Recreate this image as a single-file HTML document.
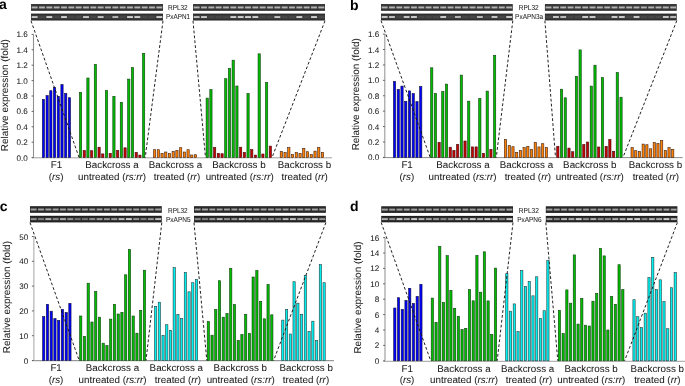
<!DOCTYPE html>
<html><head><meta charset="utf-8"><style>
html,body{margin:0;padding:0;background:#fff;overflow:hidden;}
svg{display:block;will-change:transform;}
text{font-family:"Liberation Sans", sans-serif;text-rendering:geometricPrecision;}
</style></head><body>
<svg width="685" height="386" viewBox="0 0 685 386">
<defs>
<linearGradient id="g1" x1="0" y1="0" x2="0" y2="1"><stop offset="0" stop-color="#1e1e1e"/><stop offset="0.25" stop-color="#3c3c3c"/><stop offset="0.75" stop-color="#3c3c3c"/><stop offset="1" stop-color="#1e1e1e"/></linearGradient>
<linearGradient id="g2" x1="0" y1="0" x2="0" y2="1"><stop offset="0" stop-color="#151515"/><stop offset="0.25" stop-color="#2e2e2e"/><stop offset="0.75" stop-color="#2e2e2e"/><stop offset="1" stop-color="#151515"/></linearGradient>
<filter id="bl" x="-5%" y="-50%" width="110%" height="200%"><feGaussianBlur stdDeviation="0.35"/></filter>
</defs>
<rect width="685" height="386" fill="#fff"/>
<text x="-1" y="8.6" font-size="14" text-anchor="start" font-weight="bold" fill="#000" >a</text>
<rect x="31" y="4.1" width="132.00" height="6.70" fill="url(#g1)"/>
<g filter="url(#bl)">
<rect x="31.73" y="6.50" width="5.87" height="1.9" fill="#e0e0e0" opacity="0.72"/>
<rect x="39.07" y="6.50" width="5.87" height="1.9" fill="#e0e0e0" opacity="0.72"/>
<rect x="46.40" y="6.50" width="5.87" height="1.9" fill="#e0e0e0" opacity="0.72"/>
<rect x="53.73" y="6.50" width="5.87" height="1.9" fill="#e0e0e0" opacity="0.72"/>
<rect x="61.07" y="6.50" width="5.87" height="1.9" fill="#e0e0e0" opacity="0.72"/>
<rect x="68.40" y="6.50" width="5.87" height="1.9" fill="#e0e0e0" opacity="0.72"/>
<rect x="75.73" y="6.50" width="5.87" height="1.9" fill="#e0e0e0" opacity="0.72"/>
<rect x="83.07" y="6.50" width="5.87" height="1.9" fill="#e0e0e0" opacity="0.72"/>
<rect x="90.40" y="6.50" width="5.87" height="1.9" fill="#e0e0e0" opacity="0.72"/>
<rect x="97.73" y="6.50" width="5.87" height="1.9" fill="#e0e0e0" opacity="0.72"/>
<rect x="105.07" y="6.50" width="5.87" height="1.9" fill="#e0e0e0" opacity="0.72"/>
<rect x="112.40" y="6.50" width="5.87" height="1.9" fill="#e0e0e0" opacity="0.72"/>
<rect x="119.73" y="6.50" width="5.87" height="1.9" fill="#e0e0e0" opacity="0.72"/>
<rect x="127.07" y="6.50" width="5.87" height="1.9" fill="#e0e0e0" opacity="0.72"/>
<rect x="134.40" y="6.50" width="5.87" height="1.9" fill="#e0e0e0" opacity="0.72"/>
<rect x="141.73" y="6.50" width="5.87" height="1.9" fill="#e0e0e0" opacity="0.72"/>
<rect x="149.07" y="6.50" width="5.87" height="1.9" fill="#e0e0e0" opacity="0.72"/>
<rect x="156.40" y="6.50" width="5.87" height="1.9" fill="#e0e0e0" opacity="0.72"/>
</g>
<rect x="31" y="13.6" width="132.00" height="6.90" fill="url(#g1)"/>
<g filter="url(#bl)">
<rect x="31.73" y="16.10" width="5.87" height="1.9" fill="#e0e0e0" opacity="0.85"/>
<rect x="39.07" y="16.10" width="5.87" height="1.9" fill="#e0e0e0" opacity="0.07"/>
<rect x="46.40" y="16.10" width="5.87" height="1.9" fill="#e0e0e0" opacity="0.90"/>
<rect x="53.73" y="16.10" width="5.87" height="1.9" fill="#e0e0e0" opacity="0.07"/>
<rect x="61.07" y="16.10" width="5.87" height="1.9" fill="#e0e0e0" opacity="0.90"/>
<rect x="68.40" y="16.10" width="5.87" height="1.9" fill="#e0e0e0" opacity="0.07"/>
<rect x="75.73" y="16.10" width="5.87" height="1.9" fill="#e0e0e0" opacity="0.07"/>
<rect x="83.07" y="16.10" width="5.87" height="1.9" fill="#e0e0e0" opacity="0.86"/>
<rect x="90.40" y="16.10" width="5.87" height="1.9" fill="#e0e0e0" opacity="0.07"/>
<rect x="97.73" y="16.10" width="5.87" height="1.9" fill="#e0e0e0" opacity="0.81"/>
<rect x="105.07" y="16.10" width="5.87" height="1.9" fill="#e0e0e0" opacity="0.07"/>
<rect x="112.40" y="16.10" width="5.87" height="1.9" fill="#e0e0e0" opacity="0.76"/>
<rect x="119.73" y="16.10" width="5.87" height="1.9" fill="#e0e0e0" opacity="0.07"/>
<rect x="127.07" y="16.10" width="5.87" height="1.9" fill="#e0e0e0" opacity="0.90"/>
<rect x="134.40" y="16.10" width="5.87" height="1.9" fill="#e0e0e0" opacity="0.90"/>
<rect x="141.73" y="16.10" width="5.87" height="1.9" fill="#e0e0e0" opacity="0.07"/>
<rect x="149.07" y="16.10" width="5.87" height="1.9" fill="#e0e0e0" opacity="0.07"/>
<rect x="156.40" y="16.10" width="5.87" height="1.9" fill="#e0e0e0" opacity="0.90"/>
</g>
<rect x="193" y="4.1" width="132.00" height="6.70" fill="url(#g1)"/>
<g filter="url(#bl)">
<rect x="193.73" y="6.50" width="5.87" height="1.9" fill="#e0e0e0" opacity="0.72"/>
<rect x="201.07" y="6.50" width="5.87" height="1.9" fill="#e0e0e0" opacity="0.72"/>
<rect x="208.40" y="6.50" width="5.87" height="1.9" fill="#e0e0e0" opacity="0.72"/>
<rect x="215.73" y="6.50" width="5.87" height="1.9" fill="#e0e0e0" opacity="0.72"/>
<rect x="223.07" y="6.50" width="5.87" height="1.9" fill="#e0e0e0" opacity="0.72"/>
<rect x="230.40" y="6.50" width="5.87" height="1.9" fill="#e0e0e0" opacity="0.72"/>
<rect x="237.73" y="6.50" width="5.87" height="1.9" fill="#e0e0e0" opacity="0.72"/>
<rect x="245.07" y="6.50" width="5.87" height="1.9" fill="#e0e0e0" opacity="0.72"/>
<rect x="252.40" y="6.50" width="5.87" height="1.9" fill="#e0e0e0" opacity="0.72"/>
<rect x="259.73" y="6.50" width="5.87" height="1.9" fill="#e0e0e0" opacity="0.72"/>
<rect x="267.07" y="6.50" width="5.87" height="1.9" fill="#e0e0e0" opacity="0.72"/>
<rect x="274.40" y="6.50" width="5.87" height="1.9" fill="#e0e0e0" opacity="0.72"/>
<rect x="281.73" y="6.50" width="5.87" height="1.9" fill="#e0e0e0" opacity="0.72"/>
<rect x="289.07" y="6.50" width="5.87" height="1.9" fill="#e0e0e0" opacity="0.72"/>
<rect x="296.40" y="6.50" width="5.87" height="1.9" fill="#e0e0e0" opacity="0.72"/>
<rect x="303.73" y="6.50" width="5.87" height="1.9" fill="#e0e0e0" opacity="0.72"/>
<rect x="311.07" y="6.50" width="5.87" height="1.9" fill="#e0e0e0" opacity="0.72"/>
<rect x="318.40" y="6.50" width="5.87" height="1.9" fill="#e0e0e0" opacity="0.72"/>
</g>
<rect x="193" y="13.6" width="132.00" height="6.90" fill="url(#g1)"/>
<g filter="url(#bl)">
<rect x="193.73" y="16.10" width="5.87" height="1.9" fill="#e0e0e0" opacity="0.80"/>
<rect x="201.07" y="16.10" width="5.87" height="1.9" fill="#e0e0e0" opacity="0.87"/>
<rect x="208.40" y="16.10" width="5.87" height="1.9" fill="#e0e0e0" opacity="0.07"/>
<rect x="215.73" y="16.10" width="5.87" height="1.9" fill="#e0e0e0" opacity="0.07"/>
<rect x="223.07" y="16.10" width="5.87" height="1.9" fill="#e0e0e0" opacity="0.07"/>
<rect x="230.40" y="16.10" width="5.87" height="1.9" fill="#e0e0e0" opacity="0.90"/>
<rect x="237.73" y="16.10" width="5.87" height="1.9" fill="#e0e0e0" opacity="0.90"/>
<rect x="245.07" y="16.10" width="5.87" height="1.9" fill="#e0e0e0" opacity="0.90"/>
<rect x="252.40" y="16.10" width="5.87" height="1.9" fill="#e0e0e0" opacity="0.90"/>
<rect x="259.73" y="16.10" width="5.87" height="1.9" fill="#e0e0e0" opacity="0.07"/>
<rect x="267.07" y="16.10" width="5.87" height="1.9" fill="#e0e0e0" opacity="0.07"/>
<rect x="274.40" y="16.10" width="5.87" height="1.9" fill="#e0e0e0" opacity="0.84"/>
<rect x="281.73" y="16.10" width="5.87" height="1.9" fill="#e0e0e0" opacity="0.07"/>
<rect x="289.07" y="16.10" width="5.87" height="1.9" fill="#e0e0e0" opacity="0.07"/>
<rect x="296.40" y="16.10" width="5.87" height="1.9" fill="#e0e0e0" opacity="0.90"/>
<rect x="303.73" y="16.10" width="5.87" height="1.9" fill="#e0e0e0" opacity="0.07"/>
<rect x="311.07" y="16.10" width="5.87" height="1.9" fill="#e0e0e0" opacity="0.90"/>
<rect x="318.40" y="16.10" width="5.87" height="1.9" fill="#e0e0e0" opacity="0.07"/>
</g>
<text x="177.85" y="9.9" font-size="7.2" text-anchor="middle" font-weight="normal" fill="#222" stroke="#222" stroke-width="0.05" textLength="19.70" lengthAdjust="spacingAndGlyphs">RPL32</text>
<text x="178.05" y="19.1" font-size="7.2" text-anchor="middle" font-weight="normal" fill="#222" stroke="#222" stroke-width="0.05" textLength="23.90" lengthAdjust="spacingAndGlyphs">PxAPN1</text>
<line x1="31.9" y1="157.79999999999998" x2="332" y2="157.79999999999998" stroke="#a0a0a0" stroke-width="1"/>
<line x1="33.5" y1="34.40" x2="33.5" y2="157.6" stroke="#909090" stroke-width="1.1"/>
<line x1="31.6" y1="157.60" x2="33.5" y2="157.60" stroke="#555" stroke-width="0.9"/>
<text x="27.8" y="160.65" font-size="8.1" text-anchor="end" font-weight="normal" fill="#222" stroke="#222" stroke-width="0.05" >0.0</text>
<line x1="31.6" y1="142.20" x2="33.5" y2="142.20" stroke="#555" stroke-width="0.9"/>
<text x="27.8" y="145.25" font-size="8.1" text-anchor="end" font-weight="normal" fill="#222" stroke="#222" stroke-width="0.05" >0.2</text>
<line x1="31.6" y1="126.80" x2="33.5" y2="126.80" stroke="#555" stroke-width="0.9"/>
<text x="27.8" y="129.85" font-size="8.1" text-anchor="end" font-weight="normal" fill="#222" stroke="#222" stroke-width="0.05" >0.4</text>
<line x1="31.6" y1="111.40" x2="33.5" y2="111.40" stroke="#555" stroke-width="0.9"/>
<text x="27.8" y="114.45" font-size="8.1" text-anchor="end" font-weight="normal" fill="#222" stroke="#222" stroke-width="0.05" >0.6</text>
<line x1="31.6" y1="96.00" x2="33.5" y2="96.00" stroke="#555" stroke-width="0.9"/>
<text x="27.8" y="99.05" font-size="8.1" text-anchor="end" font-weight="normal" fill="#222" stroke="#222" stroke-width="0.05" >0.8</text>
<line x1="31.6" y1="80.60" x2="33.5" y2="80.60" stroke="#555" stroke-width="0.9"/>
<text x="27.8" y="83.65" font-size="8.1" text-anchor="end" font-weight="normal" fill="#222" stroke="#222" stroke-width="0.05" >1.0</text>
<line x1="31.6" y1="65.20" x2="33.5" y2="65.20" stroke="#555" stroke-width="0.9"/>
<text x="27.8" y="68.25" font-size="8.1" text-anchor="end" font-weight="normal" fill="#222" stroke="#222" stroke-width="0.05" >1.2</text>
<line x1="31.6" y1="49.80" x2="33.5" y2="49.80" stroke="#555" stroke-width="0.9"/>
<text x="27.8" y="52.85" font-size="8.1" text-anchor="end" font-weight="normal" fill="#222" stroke="#222" stroke-width="0.05" >1.4</text>
<line x1="31.6" y1="34.40" x2="33.5" y2="34.40" stroke="#555" stroke-width="0.9"/>
<text x="27.8" y="37.45" font-size="8.1" text-anchor="end" font-weight="normal" fill="#222" stroke="#222" stroke-width="0.05" >1.6</text>
<text transform="translate(7.9,95.2) rotate(-90)" font-size="9.95" text-anchor="middle" fill="#1a1a1a" stroke="#1a1a1a" stroke-width="0.05">Relative expression (fold)</text>
<rect x="42.30" y="99.30" width="2.25" height="58.30" fill="#0000ff" stroke="#101040" stroke-width="0.6"/>
<rect x="46.01" y="95.60" width="2.25" height="62.00" fill="#0000ff" stroke="#101040" stroke-width="0.6"/>
<rect x="49.73" y="90.70" width="2.25" height="66.90" fill="#0000ff" stroke="#101040" stroke-width="0.6"/>
<rect x="53.44" y="87.40" width="2.25" height="70.20" fill="#0000ff" stroke="#101040" stroke-width="0.6"/>
<rect x="57.16" y="96.30" width="2.25" height="61.30" fill="#0000ff" stroke="#101040" stroke-width="0.6"/>
<rect x="60.87" y="84.60" width="2.25" height="73.00" fill="#0000ff" stroke="#101040" stroke-width="0.6"/>
<rect x="64.59" y="93.50" width="2.25" height="64.10" fill="#0000ff" stroke="#101040" stroke-width="0.6"/>
<rect x="68.30" y="97.70" width="2.25" height="59.90" fill="#0000ff" stroke="#101040" stroke-width="0.6"/>
<rect x="79.40" y="92.30" width="2.25" height="65.30" fill="#00bb00" stroke="#104010" stroke-width="0.6"/>
<rect x="83.11" y="150.40" width="2.25" height="7.20" fill="#c40000" stroke="#401010" stroke-width="0.6"/>
<rect x="86.82" y="78.00" width="2.25" height="79.60" fill="#00bb00" stroke="#104010" stroke-width="0.6"/>
<rect x="90.54" y="150.70" width="2.25" height="6.90" fill="#c40000" stroke="#401010" stroke-width="0.6"/>
<rect x="94.25" y="64.40" width="2.25" height="93.20" fill="#00bb00" stroke="#104010" stroke-width="0.6"/>
<rect x="97.96" y="147.20" width="2.25" height="10.40" fill="#c40000" stroke="#401010" stroke-width="0.6"/>
<rect x="101.67" y="153.90" width="2.25" height="3.70" fill="#c40000" stroke="#401010" stroke-width="0.6"/>
<rect x="105.38" y="90.60" width="2.25" height="67.00" fill="#00bb00" stroke="#104010" stroke-width="0.6"/>
<rect x="109.09" y="153.30" width="2.25" height="4.30" fill="#c40000" stroke="#401010" stroke-width="0.6"/>
<rect x="112.81" y="96.30" width="2.25" height="61.30" fill="#00bb00" stroke="#104010" stroke-width="0.6"/>
<rect x="116.52" y="150.40" width="2.25" height="7.20" fill="#c40000" stroke="#401010" stroke-width="0.6"/>
<rect x="120.23" y="102.30" width="2.25" height="55.30" fill="#00bb00" stroke="#104010" stroke-width="0.6"/>
<rect x="123.94" y="147.80" width="2.25" height="9.80" fill="#c40000" stroke="#401010" stroke-width="0.6"/>
<rect x="127.65" y="79.10" width="2.25" height="78.50" fill="#00bb00" stroke="#104010" stroke-width="0.6"/>
<rect x="131.36" y="67.50" width="2.25" height="90.10" fill="#00bb00" stroke="#104010" stroke-width="0.6"/>
<rect x="135.08" y="152.30" width="2.25" height="5.30" fill="#c40000" stroke="#401010" stroke-width="0.6"/>
<rect x="138.79" y="155.10" width="2.25" height="2.50" fill="#c40000" stroke="#401010" stroke-width="0.6"/>
<rect x="142.50" y="53.30" width="2.25" height="104.30" fill="#00bb00" stroke="#104010" stroke-width="0.6"/>
<rect x="153.50" y="149.70" width="2.25" height="7.90" fill="#ff8000" stroke="#402010" stroke-width="0.6"/>
<rect x="157.22" y="149.70" width="2.25" height="7.90" fill="#ff8000" stroke="#402010" stroke-width="0.6"/>
<rect x="160.94" y="153.40" width="2.25" height="4.20" fill="#ff8000" stroke="#402010" stroke-width="0.6"/>
<rect x="164.65" y="152.00" width="2.25" height="5.60" fill="#ff8000" stroke="#402010" stroke-width="0.6"/>
<rect x="168.37" y="153.60" width="2.25" height="4.00" fill="#ff8000" stroke="#402010" stroke-width="0.6"/>
<rect x="172.09" y="151.30" width="2.25" height="6.30" fill="#ff8000" stroke="#402010" stroke-width="0.6"/>
<rect x="175.81" y="150.30" width="2.25" height="7.30" fill="#ff8000" stroke="#402010" stroke-width="0.6"/>
<rect x="179.53" y="147.70" width="2.25" height="9.90" fill="#ff8000" stroke="#402010" stroke-width="0.6"/>
<rect x="183.25" y="152.00" width="2.25" height="5.60" fill="#ff8000" stroke="#402010" stroke-width="0.6"/>
<rect x="186.96" y="149.70" width="2.25" height="7.90" fill="#ff8000" stroke="#402010" stroke-width="0.6"/>
<rect x="190.68" y="155.00" width="2.25" height="2.60" fill="#ff8000" stroke="#402010" stroke-width="0.6"/>
<rect x="194.40" y="154.70" width="2.25" height="2.90" fill="#ff8000" stroke="#402010" stroke-width="0.6"/>
<rect x="206.10" y="98.10" width="2.25" height="59.50" fill="#00bb00" stroke="#104010" stroke-width="0.6"/>
<rect x="209.81" y="89.60" width="2.25" height="68.00" fill="#00bb00" stroke="#104010" stroke-width="0.6"/>
<rect x="213.52" y="147.50" width="2.25" height="10.10" fill="#c40000" stroke="#401010" stroke-width="0.6"/>
<rect x="217.24" y="153.30" width="2.25" height="4.30" fill="#c40000" stroke="#401010" stroke-width="0.6"/>
<rect x="220.95" y="153.70" width="2.25" height="3.90" fill="#c40000" stroke="#401010" stroke-width="0.6"/>
<rect x="224.66" y="78.70" width="2.25" height="78.90" fill="#00bb00" stroke="#104010" stroke-width="0.6"/>
<rect x="228.37" y="68.30" width="2.25" height="89.30" fill="#00bb00" stroke="#104010" stroke-width="0.6"/>
<rect x="232.08" y="60.20" width="2.25" height="97.40" fill="#00bb00" stroke="#104010" stroke-width="0.6"/>
<rect x="235.79" y="86.00" width="2.25" height="71.60" fill="#00bb00" stroke="#104010" stroke-width="0.6"/>
<rect x="239.51" y="147.20" width="2.25" height="10.40" fill="#c40000" stroke="#401010" stroke-width="0.6"/>
<rect x="243.22" y="152.30" width="2.25" height="5.30" fill="#c40000" stroke="#401010" stroke-width="0.6"/>
<rect x="246.93" y="93.50" width="2.25" height="64.10" fill="#00bb00" stroke="#104010" stroke-width="0.6"/>
<rect x="250.64" y="149.60" width="2.25" height="8.00" fill="#c40000" stroke="#401010" stroke-width="0.6"/>
<rect x="254.35" y="155.10" width="2.25" height="2.50" fill="#c40000" stroke="#401010" stroke-width="0.6"/>
<rect x="258.06" y="53.80" width="2.25" height="103.80" fill="#00bb00" stroke="#104010" stroke-width="0.6"/>
<rect x="261.78" y="154.00" width="2.25" height="3.60" fill="#c40000" stroke="#401010" stroke-width="0.6"/>
<rect x="265.49" y="82.60" width="2.25" height="75.00" fill="#00bb00" stroke="#104010" stroke-width="0.6"/>
<rect x="269.20" y="146.10" width="2.25" height="11.50" fill="#c40000" stroke="#401010" stroke-width="0.6"/>
<rect x="280.20" y="151.60" width="2.25" height="6.00" fill="#ff8000" stroke="#402010" stroke-width="0.6"/>
<rect x="283.95" y="152.50" width="2.25" height="5.10" fill="#ff8000" stroke="#402010" stroke-width="0.6"/>
<rect x="287.69" y="147.60" width="2.25" height="10.00" fill="#ff8000" stroke="#402010" stroke-width="0.6"/>
<rect x="291.44" y="154.50" width="2.25" height="3.10" fill="#ff8000" stroke="#402010" stroke-width="0.6"/>
<rect x="295.18" y="152.50" width="2.25" height="5.10" fill="#ff8000" stroke="#402010" stroke-width="0.6"/>
<rect x="298.93" y="153.30" width="2.25" height="4.30" fill="#ff8000" stroke="#402010" stroke-width="0.6"/>
<rect x="302.67" y="148.40" width="2.25" height="9.20" fill="#ff8000" stroke="#402010" stroke-width="0.6"/>
<rect x="306.42" y="151.70" width="2.25" height="5.90" fill="#ff8000" stroke="#402010" stroke-width="0.6"/>
<rect x="310.16" y="154.50" width="2.25" height="3.10" fill="#ff8000" stroke="#402010" stroke-width="0.6"/>
<rect x="313.91" y="151.10" width="2.25" height="6.50" fill="#ff8000" stroke="#402010" stroke-width="0.6"/>
<rect x="317.65" y="147.60" width="2.25" height="10.00" fill="#ff8000" stroke="#402010" stroke-width="0.6"/>
<rect x="321.40" y="152.50" width="2.25" height="5.10" fill="#ff8000" stroke="#402010" stroke-width="0.6"/>
<line x1="31" y1="20.8" x2="79.1" y2="157.6" stroke="#151515" stroke-width="0.95" stroke-dasharray="2.8 2.1"/>
<line x1="163" y1="20.8" x2="145.2" y2="157.6" stroke="#151515" stroke-width="0.95" stroke-dasharray="2.8 2.1"/>
<line x1="193" y1="20.8" x2="205.5" y2="157.6" stroke="#151515" stroke-width="0.95" stroke-dasharray="2.8 2.1"/>
<line x1="325" y1="20.8" x2="272" y2="157.6" stroke="#151515" stroke-width="0.95" stroke-dasharray="2.8 2.1"/>
<text x="56.4" y="168.40" font-size="9.8" text-anchor="middle" font-weight="normal" fill="#1a1a1a" stroke="#1a1a1a" stroke-width="0.05" >F1</text>
<text x="56.1" y="179.90" font-size="9.8" text-anchor="middle" font-weight="normal" fill="#1a1a1a" stroke="#1a1a1a" stroke-width="0.05" >(<tspan font-style="italic">rs</tspan>)</text>
<text x="112.0" y="168.40" font-size="9.8" text-anchor="middle" font-weight="normal" fill="#1a1a1a" stroke="#1a1a1a" stroke-width="0.05" >Backcross a</text>
<text x="112.1" y="179.90" font-size="9.8" text-anchor="middle" font-weight="normal" fill="#1a1a1a" stroke="#1a1a1a" stroke-width="0.05" >untreated (<tspan font-style="italic">rs:rr</tspan>)</text>
<text x="175.5" y="168.40" font-size="9.8" text-anchor="middle" font-weight="normal" fill="#1a1a1a" stroke="#1a1a1a" stroke-width="0.05" >Backcross a</text>
<text x="177.0" y="179.90" font-size="9.8" text-anchor="middle" font-weight="normal" fill="#1a1a1a" stroke="#1a1a1a" stroke-width="0.05" >treated (<tspan font-style="italic">rr</tspan>)</text>
<text x="239.0" y="168.40" font-size="9.8" text-anchor="middle" font-weight="normal" fill="#1a1a1a" stroke="#1a1a1a" stroke-width="0.05" >Backcross b</text>
<text x="239.7" y="179.90" font-size="9.8" text-anchor="middle" font-weight="normal" fill="#1a1a1a" stroke="#1a1a1a" stroke-width="0.05" >untreated (<tspan font-style="italic">rs:rr</tspan>)</text>
<text x="304.5" y="168.40" font-size="9.8" text-anchor="middle" font-weight="normal" fill="#1a1a1a" stroke="#1a1a1a" stroke-width="0.05" >Backcross b</text>
<text x="304.7" y="179.90" font-size="9.8" text-anchor="middle" font-weight="normal" fill="#1a1a1a" stroke="#1a1a1a" stroke-width="0.05" >treated (<tspan font-style="italic">rr</tspan>)</text>
<text x="350" y="9.9" font-size="14" text-anchor="start" font-weight="bold" fill="#000" >b</text>
<rect x="381" y="4.1" width="131.80" height="6.70" fill="url(#g1)"/>
<g filter="url(#bl)">
<rect x="381.73" y="6.50" width="5.86" height="1.9" fill="#e0e0e0" opacity="0.72"/>
<rect x="389.05" y="6.50" width="5.86" height="1.9" fill="#e0e0e0" opacity="0.72"/>
<rect x="396.38" y="6.50" width="5.86" height="1.9" fill="#e0e0e0" opacity="0.72"/>
<rect x="403.70" y="6.50" width="5.86" height="1.9" fill="#e0e0e0" opacity="0.72"/>
<rect x="411.02" y="6.50" width="5.86" height="1.9" fill="#e0e0e0" opacity="0.72"/>
<rect x="418.34" y="6.50" width="5.86" height="1.9" fill="#e0e0e0" opacity="0.72"/>
<rect x="425.67" y="6.50" width="5.86" height="1.9" fill="#e0e0e0" opacity="0.72"/>
<rect x="432.99" y="6.50" width="5.86" height="1.9" fill="#e0e0e0" opacity="0.72"/>
<rect x="440.31" y="6.50" width="5.86" height="1.9" fill="#e0e0e0" opacity="0.72"/>
<rect x="447.63" y="6.50" width="5.86" height="1.9" fill="#e0e0e0" opacity="0.72"/>
<rect x="454.95" y="6.50" width="5.86" height="1.9" fill="#e0e0e0" opacity="0.72"/>
<rect x="462.28" y="6.50" width="5.86" height="1.9" fill="#e0e0e0" opacity="0.72"/>
<rect x="469.60" y="6.50" width="5.86" height="1.9" fill="#e0e0e0" opacity="0.72"/>
<rect x="476.92" y="6.50" width="5.86" height="1.9" fill="#e0e0e0" opacity="0.72"/>
<rect x="484.24" y="6.50" width="5.86" height="1.9" fill="#e0e0e0" opacity="0.72"/>
<rect x="491.57" y="6.50" width="5.86" height="1.9" fill="#e0e0e0" opacity="0.72"/>
<rect x="498.89" y="6.50" width="5.86" height="1.9" fill="#e0e0e0" opacity="0.72"/>
<rect x="506.21" y="6.50" width="5.86" height="1.9" fill="#e0e0e0" opacity="0.72"/>
</g>
<rect x="381" y="13.6" width="131.80" height="6.80" fill="url(#g1)"/>
<g filter="url(#bl)">
<rect x="381.73" y="16.05" width="5.86" height="1.9" fill="#e0e0e0" opacity="0.90"/>
<rect x="389.05" y="16.05" width="5.86" height="1.9" fill="#e0e0e0" opacity="0.83"/>
<rect x="396.38" y="16.05" width="5.86" height="1.9" fill="#e0e0e0" opacity="0.07"/>
<rect x="403.70" y="16.05" width="5.86" height="1.9" fill="#e0e0e0" opacity="0.85"/>
<rect x="411.02" y="16.05" width="5.86" height="1.9" fill="#e0e0e0" opacity="0.90"/>
<rect x="418.34" y="16.05" width="5.86" height="1.9" fill="#e0e0e0" opacity="0.07"/>
<rect x="425.67" y="16.05" width="5.86" height="1.9" fill="#e0e0e0" opacity="0.07"/>
<rect x="432.99" y="16.05" width="5.86" height="1.9" fill="#e0e0e0" opacity="0.07"/>
<rect x="440.31" y="16.05" width="5.86" height="1.9" fill="#e0e0e0" opacity="0.90"/>
<rect x="447.63" y="16.05" width="5.86" height="1.9" fill="#e0e0e0" opacity="0.07"/>
<rect x="454.95" y="16.05" width="5.86" height="1.9" fill="#e0e0e0" opacity="0.77"/>
<rect x="462.28" y="16.05" width="5.86" height="1.9" fill="#e0e0e0" opacity="0.07"/>
<rect x="469.60" y="16.05" width="5.86" height="1.9" fill="#e0e0e0" opacity="0.07"/>
<rect x="476.92" y="16.05" width="5.86" height="1.9" fill="#e0e0e0" opacity="0.79"/>
<rect x="484.24" y="16.05" width="5.86" height="1.9" fill="#e0e0e0" opacity="0.07"/>
<rect x="491.57" y="16.05" width="5.86" height="1.9" fill="#e0e0e0" opacity="0.85"/>
<rect x="498.89" y="16.05" width="5.86" height="1.9" fill="#e0e0e0" opacity="0.07"/>
<rect x="506.21" y="16.05" width="5.86" height="1.9" fill="#e0e0e0" opacity="0.90"/>
</g>
<rect x="544.9" y="4.1" width="131.90" height="6.70" fill="url(#g1)"/>
<g filter="url(#bl)">
<rect x="545.63" y="6.50" width="5.86" height="1.9" fill="#e0e0e0" opacity="0.72"/>
<rect x="552.96" y="6.50" width="5.86" height="1.9" fill="#e0e0e0" opacity="0.72"/>
<rect x="560.29" y="6.50" width="5.86" height="1.9" fill="#e0e0e0" opacity="0.72"/>
<rect x="567.62" y="6.50" width="5.86" height="1.9" fill="#e0e0e0" opacity="0.72"/>
<rect x="574.94" y="6.50" width="5.86" height="1.9" fill="#e0e0e0" opacity="0.72"/>
<rect x="582.27" y="6.50" width="5.86" height="1.9" fill="#e0e0e0" opacity="0.72"/>
<rect x="589.60" y="6.50" width="5.86" height="1.9" fill="#e0e0e0" opacity="0.72"/>
<rect x="596.93" y="6.50" width="5.86" height="1.9" fill="#e0e0e0" opacity="0.72"/>
<rect x="604.25" y="6.50" width="5.86" height="1.9" fill="#e0e0e0" opacity="0.72"/>
<rect x="611.58" y="6.50" width="5.86" height="1.9" fill="#e0e0e0" opacity="0.72"/>
<rect x="618.91" y="6.50" width="5.86" height="1.9" fill="#e0e0e0" opacity="0.72"/>
<rect x="626.24" y="6.50" width="5.86" height="1.9" fill="#e0e0e0" opacity="0.72"/>
<rect x="633.57" y="6.50" width="5.86" height="1.9" fill="#e0e0e0" opacity="0.72"/>
<rect x="640.89" y="6.50" width="5.86" height="1.9" fill="#e0e0e0" opacity="0.72"/>
<rect x="648.22" y="6.50" width="5.86" height="1.9" fill="#e0e0e0" opacity="0.72"/>
<rect x="655.55" y="6.50" width="5.86" height="1.9" fill="#e0e0e0" opacity="0.72"/>
<rect x="662.88" y="6.50" width="5.86" height="1.9" fill="#e0e0e0" opacity="0.72"/>
<rect x="670.20" y="6.50" width="5.86" height="1.9" fill="#e0e0e0" opacity="0.72"/>
</g>
<rect x="544.9" y="13.6" width="131.90" height="6.80" fill="url(#g1)"/>
<g filter="url(#bl)">
<rect x="545.63" y="16.05" width="5.86" height="1.9" fill="#e0e0e0" opacity="0.07"/>
<rect x="552.96" y="16.05" width="5.86" height="1.9" fill="#e0e0e0" opacity="0.87"/>
<rect x="560.29" y="16.05" width="5.86" height="1.9" fill="#e0e0e0" opacity="0.80"/>
<rect x="567.62" y="16.05" width="5.86" height="1.9" fill="#e0e0e0" opacity="0.07"/>
<rect x="574.94" y="16.05" width="5.86" height="1.9" fill="#e0e0e0" opacity="0.07"/>
<rect x="582.27" y="16.05" width="5.86" height="1.9" fill="#e0e0e0" opacity="0.90"/>
<rect x="589.60" y="16.05" width="5.86" height="1.9" fill="#e0e0e0" opacity="0.90"/>
<rect x="596.93" y="16.05" width="5.86" height="1.9" fill="#e0e0e0" opacity="0.07"/>
<rect x="604.25" y="16.05" width="5.86" height="1.9" fill="#e0e0e0" opacity="0.07"/>
<rect x="611.58" y="16.05" width="5.86" height="1.9" fill="#e0e0e0" opacity="0.90"/>
<rect x="618.91" y="16.05" width="5.86" height="1.9" fill="#e0e0e0" opacity="0.90"/>
<rect x="626.24" y="16.05" width="5.86" height="1.9" fill="#e0e0e0" opacity="0.07"/>
<rect x="633.57" y="16.05" width="5.86" height="1.9" fill="#e0e0e0" opacity="0.90"/>
<rect x="640.89" y="16.05" width="5.86" height="1.9" fill="#e0e0e0" opacity="0.07"/>
<rect x="648.22" y="16.05" width="5.86" height="1.9" fill="#e0e0e0" opacity="0.07"/>
<rect x="655.55" y="16.05" width="5.86" height="1.9" fill="#e0e0e0" opacity="0.07"/>
<rect x="662.88" y="16.05" width="5.86" height="1.9" fill="#e0e0e0" opacity="0.90"/>
<rect x="670.20" y="16.05" width="5.86" height="1.9" fill="#e0e0e0" opacity="0.80"/>
</g>
<text x="528.7" y="10.2" font-size="7.2" text-anchor="middle" font-weight="normal" fill="#222" stroke="#222" stroke-width="0.05" textLength="19.80" lengthAdjust="spacingAndGlyphs">RPL32</text>
<text x="529.15" y="19.4" font-size="7.2" text-anchor="middle" font-weight="normal" fill="#222" stroke="#222" stroke-width="0.05" textLength="28.10" lengthAdjust="spacingAndGlyphs">PxAPN3a</text>
<line x1="383.2" y1="157.6" x2="682.7" y2="157.6" stroke="#8c8c8c" stroke-width="1"/>
<line x1="384.8" y1="34.12" x2="384.8" y2="157.4" stroke="#999999" stroke-width="1.1"/>
<line x1="382.90000000000003" y1="157.40" x2="384.8" y2="157.40" stroke="#555" stroke-width="0.9"/>
<text x="379.3" y="160.45" font-size="8.1" text-anchor="end" font-weight="normal" fill="#222" stroke="#222" stroke-width="0.05" >0.0</text>
<line x1="382.90000000000003" y1="141.99" x2="384.8" y2="141.99" stroke="#555" stroke-width="0.9"/>
<text x="379.3" y="145.04" font-size="8.1" text-anchor="end" font-weight="normal" fill="#222" stroke="#222" stroke-width="0.05" >0.2</text>
<line x1="382.90000000000003" y1="126.58" x2="384.8" y2="126.58" stroke="#555" stroke-width="0.9"/>
<text x="379.3" y="129.63" font-size="8.1" text-anchor="end" font-weight="normal" fill="#222" stroke="#222" stroke-width="0.05" >0.4</text>
<line x1="382.90000000000003" y1="111.17" x2="384.8" y2="111.17" stroke="#555" stroke-width="0.9"/>
<text x="379.3" y="114.22" font-size="8.1" text-anchor="end" font-weight="normal" fill="#222" stroke="#222" stroke-width="0.05" >0.6</text>
<line x1="382.90000000000003" y1="95.76" x2="384.8" y2="95.76" stroke="#555" stroke-width="0.9"/>
<text x="379.3" y="98.81" font-size="8.1" text-anchor="end" font-weight="normal" fill="#222" stroke="#222" stroke-width="0.05" >0.8</text>
<line x1="382.90000000000003" y1="80.35" x2="384.8" y2="80.35" stroke="#555" stroke-width="0.9"/>
<text x="379.3" y="83.40" font-size="8.1" text-anchor="end" font-weight="normal" fill="#222" stroke="#222" stroke-width="0.05" >1.0</text>
<line x1="382.90000000000003" y1="64.94" x2="384.8" y2="64.94" stroke="#555" stroke-width="0.9"/>
<text x="379.3" y="67.99" font-size="8.1" text-anchor="end" font-weight="normal" fill="#222" stroke="#222" stroke-width="0.05" >1.2</text>
<line x1="382.90000000000003" y1="49.53" x2="384.8" y2="49.53" stroke="#555" stroke-width="0.9"/>
<text x="379.3" y="52.58" font-size="8.1" text-anchor="end" font-weight="normal" fill="#222" stroke="#222" stroke-width="0.05" >1.4</text>
<line x1="382.90000000000003" y1="34.12" x2="384.8" y2="34.12" stroke="#555" stroke-width="0.9"/>
<text x="379.3" y="37.17" font-size="8.1" text-anchor="end" font-weight="normal" fill="#222" stroke="#222" stroke-width="0.05" >1.6</text>
<text transform="translate(358.8,94.3) rotate(-90)" font-size="9.95" text-anchor="middle" fill="#1a1a1a" stroke="#1a1a1a" stroke-width="0.05">Relative expression (fold)</text>
<rect x="393.40" y="81.40" width="2.25" height="76.00" fill="#0000ff" stroke="#101040" stroke-width="0.6"/>
<rect x="397.14" y="89.40" width="2.25" height="68.00" fill="#0000ff" stroke="#101040" stroke-width="0.6"/>
<rect x="400.89" y="86.10" width="2.25" height="71.30" fill="#0000ff" stroke="#101040" stroke-width="0.6"/>
<rect x="404.63" y="101.40" width="2.25" height="56.00" fill="#0000ff" stroke="#101040" stroke-width="0.6"/>
<rect x="408.37" y="90.90" width="2.25" height="66.50" fill="#0000ff" stroke="#101040" stroke-width="0.6"/>
<rect x="412.11" y="93.50" width="2.25" height="63.90" fill="#0000ff" stroke="#101040" stroke-width="0.6"/>
<rect x="415.86" y="101.60" width="2.25" height="55.80" fill="#0000ff" stroke="#101040" stroke-width="0.6"/>
<rect x="419.60" y="86.50" width="2.25" height="70.90" fill="#0000ff" stroke="#101040" stroke-width="0.6"/>
<rect x="430.60" y="67.80" width="2.25" height="89.60" fill="#00bb00" stroke="#104010" stroke-width="0.6"/>
<rect x="434.30" y="93.50" width="2.25" height="63.90" fill="#00bb00" stroke="#104010" stroke-width="0.6"/>
<rect x="438.00" y="142.30" width="2.25" height="15.10" fill="#c40000" stroke="#401010" stroke-width="0.6"/>
<rect x="441.70" y="91.60" width="2.25" height="65.80" fill="#00bb00" stroke="#104010" stroke-width="0.6"/>
<rect x="445.40" y="84.10" width="2.25" height="73.30" fill="#00bb00" stroke="#104010" stroke-width="0.6"/>
<rect x="449.10" y="147.20" width="2.25" height="10.20" fill="#c40000" stroke="#401010" stroke-width="0.6"/>
<rect x="452.80" y="150.40" width="2.25" height="7.00" fill="#c40000" stroke="#401010" stroke-width="0.6"/>
<rect x="456.50" y="144.50" width="2.25" height="12.90" fill="#c40000" stroke="#401010" stroke-width="0.6"/>
<rect x="460.20" y="75.10" width="2.25" height="82.30" fill="#00bb00" stroke="#104010" stroke-width="0.6"/>
<rect x="463.90" y="141.00" width="2.25" height="16.40" fill="#c40000" stroke="#401010" stroke-width="0.6"/>
<rect x="467.60" y="101.20" width="2.25" height="56.20" fill="#00bb00" stroke="#104010" stroke-width="0.6"/>
<rect x="471.30" y="146.90" width="2.25" height="10.50" fill="#c40000" stroke="#401010" stroke-width="0.6"/>
<rect x="475.00" y="146.90" width="2.25" height="10.50" fill="#c40000" stroke="#401010" stroke-width="0.6"/>
<rect x="478.70" y="98.40" width="2.25" height="59.00" fill="#00bb00" stroke="#104010" stroke-width="0.6"/>
<rect x="482.40" y="153.30" width="2.25" height="4.10" fill="#c40000" stroke="#401010" stroke-width="0.6"/>
<rect x="486.10" y="91.10" width="2.25" height="66.30" fill="#00bb00" stroke="#104010" stroke-width="0.6"/>
<rect x="489.80" y="149.30" width="2.25" height="8.10" fill="#c40000" stroke="#401010" stroke-width="0.6"/>
<rect x="493.50" y="55.40" width="2.25" height="102.00" fill="#00bb00" stroke="#104010" stroke-width="0.6"/>
<rect x="504.40" y="139.40" width="2.25" height="18.00" fill="#ff8000" stroke="#402010" stroke-width="0.6"/>
<rect x="508.12" y="145.50" width="2.25" height="11.90" fill="#ff8000" stroke="#402010" stroke-width="0.6"/>
<rect x="511.84" y="146.70" width="2.25" height="10.70" fill="#ff8000" stroke="#402010" stroke-width="0.6"/>
<rect x="515.55" y="152.30" width="2.25" height="5.10" fill="#ff8000" stroke="#402010" stroke-width="0.6"/>
<rect x="519.27" y="150.50" width="2.25" height="6.90" fill="#ff8000" stroke="#402010" stroke-width="0.6"/>
<rect x="522.99" y="147.60" width="2.25" height="9.80" fill="#ff8000" stroke="#402010" stroke-width="0.6"/>
<rect x="526.71" y="146.30" width="2.25" height="11.10" fill="#ff8000" stroke="#402010" stroke-width="0.6"/>
<rect x="530.43" y="149.30" width="2.25" height="8.10" fill="#ff8000" stroke="#402010" stroke-width="0.6"/>
<rect x="534.15" y="142.30" width="2.25" height="15.10" fill="#ff8000" stroke="#402010" stroke-width="0.6"/>
<rect x="537.86" y="146.90" width="2.25" height="10.50" fill="#ff8000" stroke="#402010" stroke-width="0.6"/>
<rect x="541.58" y="143.70" width="2.25" height="13.70" fill="#ff8000" stroke="#402010" stroke-width="0.6"/>
<rect x="545.30" y="147.60" width="2.25" height="9.80" fill="#ff8000" stroke="#402010" stroke-width="0.6"/>
<rect x="556.70" y="146.30" width="2.25" height="11.10" fill="#c40000" stroke="#401010" stroke-width="0.6"/>
<rect x="560.42" y="89.20" width="2.25" height="68.20" fill="#00bb00" stroke="#104010" stroke-width="0.6"/>
<rect x="564.14" y="97.80" width="2.25" height="59.60" fill="#00bb00" stroke="#104010" stroke-width="0.6"/>
<rect x="567.85" y="148.10" width="2.25" height="9.30" fill="#c40000" stroke="#401010" stroke-width="0.6"/>
<rect x="571.57" y="151.70" width="2.25" height="5.70" fill="#c40000" stroke="#401010" stroke-width="0.6"/>
<rect x="575.29" y="76.30" width="2.25" height="81.10" fill="#00bb00" stroke="#104010" stroke-width="0.6"/>
<rect x="579.01" y="49.90" width="2.25" height="107.50" fill="#00bb00" stroke="#104010" stroke-width="0.6"/>
<rect x="582.72" y="144.50" width="2.25" height="12.90" fill="#c40000" stroke="#401010" stroke-width="0.6"/>
<rect x="586.44" y="142.00" width="2.25" height="15.40" fill="#c40000" stroke="#401010" stroke-width="0.6"/>
<rect x="590.16" y="86.10" width="2.25" height="71.30" fill="#00bb00" stroke="#104010" stroke-width="0.6"/>
<rect x="593.88" y="65.20" width="2.25" height="92.20" fill="#00bb00" stroke="#104010" stroke-width="0.6"/>
<rect x="597.59" y="147.00" width="2.25" height="10.40" fill="#c40000" stroke="#401010" stroke-width="0.6"/>
<rect x="601.31" y="77.60" width="2.25" height="79.80" fill="#00bb00" stroke="#104010" stroke-width="0.6"/>
<rect x="605.03" y="146.30" width="2.25" height="11.10" fill="#c40000" stroke="#401010" stroke-width="0.6"/>
<rect x="608.75" y="139.40" width="2.25" height="18.00" fill="#c40000" stroke="#401010" stroke-width="0.6"/>
<rect x="612.46" y="151.30" width="2.25" height="6.10" fill="#c40000" stroke="#401010" stroke-width="0.6"/>
<rect x="616.18" y="72.60" width="2.25" height="84.80" fill="#00bb00" stroke="#104010" stroke-width="0.6"/>
<rect x="619.90" y="97.20" width="2.25" height="60.20" fill="#00bb00" stroke="#104010" stroke-width="0.6"/>
<rect x="631.00" y="147.60" width="2.25" height="9.80" fill="#ff8000" stroke="#402010" stroke-width="0.6"/>
<rect x="634.69" y="150.70" width="2.25" height="6.70" fill="#ff8000" stroke="#402010" stroke-width="0.6"/>
<rect x="638.38" y="151.60" width="2.25" height="5.80" fill="#ff8000" stroke="#402010" stroke-width="0.6"/>
<rect x="642.07" y="144.10" width="2.25" height="13.30" fill="#ff8000" stroke="#402010" stroke-width="0.6"/>
<rect x="645.76" y="144.70" width="2.25" height="12.70" fill="#ff8000" stroke="#402010" stroke-width="0.6"/>
<rect x="649.45" y="148.80" width="2.25" height="8.60" fill="#ff8000" stroke="#402010" stroke-width="0.6"/>
<rect x="653.15" y="142.60" width="2.25" height="14.80" fill="#ff8000" stroke="#402010" stroke-width="0.6"/>
<rect x="656.84" y="143.50" width="2.25" height="13.90" fill="#ff8000" stroke="#402010" stroke-width="0.6"/>
<rect x="660.53" y="140.60" width="2.25" height="16.80" fill="#ff8000" stroke="#402010" stroke-width="0.6"/>
<rect x="664.22" y="150.50" width="2.25" height="6.90" fill="#ff8000" stroke="#402010" stroke-width="0.6"/>
<rect x="667.91" y="147.60" width="2.25" height="9.80" fill="#ff8000" stroke="#402010" stroke-width="0.6"/>
<rect x="671.60" y="149.30" width="2.25" height="8.10" fill="#ff8000" stroke="#402010" stroke-width="0.6"/>
<line x1="381" y1="20.6" x2="430.2" y2="157.4" stroke="#151515" stroke-width="0.95" stroke-dasharray="2.8 2.1"/>
<line x1="512.8" y1="20.6" x2="496.3" y2="157.4" stroke="#151515" stroke-width="0.95" stroke-dasharray="2.8 2.1"/>
<line x1="544.9" y1="20.6" x2="555.5" y2="157.4" stroke="#151515" stroke-width="0.95" stroke-dasharray="2.8 2.1"/>
<line x1="676.8" y1="20.6" x2="623" y2="157.4" stroke="#151515" stroke-width="0.95" stroke-dasharray="2.8 2.1"/>
<text x="407.1" y="168.20" font-size="9.8" text-anchor="middle" font-weight="normal" fill="#1a1a1a" stroke="#1a1a1a" stroke-width="0.05" >F1</text>
<text x="406.8" y="179.70" font-size="9.8" text-anchor="middle" font-weight="normal" fill="#1a1a1a" stroke="#1a1a1a" stroke-width="0.05" >(<tspan font-style="italic">rs</tspan>)</text>
<text x="463.0" y="168.20" font-size="9.8" text-anchor="middle" font-weight="normal" fill="#1a1a1a" stroke="#1a1a1a" stroke-width="0.05" >Backcross a</text>
<text x="462.6" y="179.70" font-size="9.8" text-anchor="middle" font-weight="normal" fill="#1a1a1a" stroke="#1a1a1a" stroke-width="0.05" >untreated (<tspan font-style="italic">rs:rr</tspan>)</text>
<text x="526.4" y="168.20" font-size="9.8" text-anchor="middle" font-weight="normal" fill="#1a1a1a" stroke="#1a1a1a" stroke-width="0.05" >Backcross a</text>
<text x="527.8" y="179.70" font-size="9.8" text-anchor="middle" font-weight="normal" fill="#1a1a1a" stroke="#1a1a1a" stroke-width="0.05" >treated (<tspan font-style="italic">rr</tspan>)</text>
<text x="589.8" y="168.20" font-size="9.8" text-anchor="middle" font-weight="normal" fill="#1a1a1a" stroke="#1a1a1a" stroke-width="0.05" >Backcross b</text>
<text x="589.8" y="179.70" font-size="9.8" text-anchor="middle" font-weight="normal" fill="#1a1a1a" stroke="#1a1a1a" stroke-width="0.05" >untreated (<tspan font-style="italic">rs:rr</tspan>)</text>
<text x="655.5" y="168.20" font-size="9.8" text-anchor="middle" font-weight="normal" fill="#1a1a1a" stroke="#1a1a1a" stroke-width="0.05" >Backcross b</text>
<text x="655.8" y="179.70" font-size="9.8" text-anchor="middle" font-weight="normal" fill="#1a1a1a" stroke="#1a1a1a" stroke-width="0.05" >treated (<tspan font-style="italic">rr</tspan>)</text>
<text x="-0.3" y="210.9" font-size="14" text-anchor="start" font-weight="bold" fill="#000" >c</text>
<rect x="30" y="206.2" width="131.80" height="6.60" fill="url(#g2)"/>
<g filter="url(#bl)">
<rect x="30.73" y="208.55" width="5.86" height="1.9" fill="#e0e0e0" opacity="0.65"/>
<rect x="38.05" y="208.55" width="5.86" height="1.9" fill="#e0e0e0" opacity="0.65"/>
<rect x="45.38" y="208.55" width="5.86" height="1.9" fill="#e0e0e0" opacity="0.65"/>
<rect x="52.70" y="208.55" width="5.86" height="1.9" fill="#e0e0e0" opacity="0.65"/>
<rect x="60.02" y="208.55" width="5.86" height="1.9" fill="#e0e0e0" opacity="0.65"/>
<rect x="67.34" y="208.55" width="5.86" height="1.9" fill="#e0e0e0" opacity="0.65"/>
<rect x="74.67" y="208.55" width="5.86" height="1.9" fill="#e0e0e0" opacity="0.65"/>
<rect x="81.99" y="208.55" width="5.86" height="1.9" fill="#e0e0e0" opacity="0.65"/>
<rect x="89.31" y="208.55" width="5.86" height="1.9" fill="#e0e0e0" opacity="0.65"/>
<rect x="96.63" y="208.55" width="5.86" height="1.9" fill="#e0e0e0" opacity="0.65"/>
<rect x="103.95" y="208.55" width="5.86" height="1.9" fill="#e0e0e0" opacity="0.65"/>
<rect x="111.28" y="208.55" width="5.86" height="1.9" fill="#e0e0e0" opacity="0.65"/>
<rect x="118.60" y="208.55" width="5.86" height="1.9" fill="#e0e0e0" opacity="0.65"/>
<rect x="125.92" y="208.55" width="5.86" height="1.9" fill="#e0e0e0" opacity="0.65"/>
<rect x="133.24" y="208.55" width="5.86" height="1.9" fill="#e0e0e0" opacity="0.65"/>
<rect x="140.57" y="208.55" width="5.86" height="1.9" fill="#e0e0e0" opacity="0.65"/>
<rect x="147.89" y="208.55" width="5.86" height="1.9" fill="#e0e0e0" opacity="0.65"/>
<rect x="155.21" y="208.55" width="5.86" height="1.9" fill="#e0e0e0" opacity="0.65"/>
</g>
<rect x="30" y="215.8" width="131.80" height="6.60" fill="url(#g2)"/>
<g filter="url(#bl)">
<rect x="30.73" y="218.15" width="5.86" height="1.9" fill="#e0e0e0" opacity="0.56"/>
<rect x="38.05" y="218.15" width="5.86" height="1.9" fill="#e0e0e0" opacity="0.44"/>
<rect x="45.38" y="218.15" width="5.86" height="1.9" fill="#e0e0e0" opacity="0.76"/>
<rect x="52.70" y="218.15" width="5.86" height="1.9" fill="#e0e0e0" opacity="0.53"/>
<rect x="60.02" y="218.15" width="5.86" height="1.9" fill="#e0e0e0" opacity="0.71"/>
<rect x="67.34" y="218.15" width="5.86" height="1.9" fill="#e0e0e0" opacity="0.56"/>
<rect x="74.67" y="218.15" width="5.86" height="1.9" fill="#e0e0e0" opacity="0.40"/>
<rect x="81.99" y="218.15" width="5.86" height="1.9" fill="#e0e0e0" opacity="0.39"/>
<rect x="89.31" y="218.15" width="5.86" height="1.9" fill="#e0e0e0" opacity="0.55"/>
<rect x="96.63" y="218.15" width="5.86" height="1.9" fill="#e0e0e0" opacity="0.63"/>
<rect x="103.95" y="218.15" width="5.86" height="1.9" fill="#e0e0e0" opacity="0.58"/>
<rect x="111.28" y="218.15" width="5.86" height="1.9" fill="#e0e0e0" opacity="0.59"/>
<rect x="118.60" y="218.15" width="5.86" height="1.9" fill="#e0e0e0" opacity="0.81"/>
<rect x="125.92" y="218.15" width="5.86" height="1.9" fill="#e0e0e0" opacity="0.90"/>
<rect x="133.24" y="218.15" width="5.86" height="1.9" fill="#e0e0e0" opacity="0.56"/>
<rect x="140.57" y="218.15" width="5.86" height="1.9" fill="#e0e0e0" opacity="0.46"/>
<rect x="147.89" y="218.15" width="5.86" height="1.9" fill="#e0e0e0" opacity="0.60"/>
<rect x="155.21" y="218.15" width="5.86" height="1.9" fill="#e0e0e0" opacity="0.83"/>
</g>
<rect x="194" y="206.2" width="131.90" height="6.60" fill="url(#g2)"/>
<g filter="url(#bl)">
<rect x="194.73" y="208.55" width="5.86" height="1.9" fill="#e0e0e0" opacity="0.65"/>
<rect x="202.06" y="208.55" width="5.86" height="1.9" fill="#e0e0e0" opacity="0.65"/>
<rect x="209.39" y="208.55" width="5.86" height="1.9" fill="#e0e0e0" opacity="0.65"/>
<rect x="216.72" y="208.55" width="5.86" height="1.9" fill="#e0e0e0" opacity="0.65"/>
<rect x="224.04" y="208.55" width="5.86" height="1.9" fill="#e0e0e0" opacity="0.65"/>
<rect x="231.37" y="208.55" width="5.86" height="1.9" fill="#e0e0e0" opacity="0.65"/>
<rect x="238.70" y="208.55" width="5.86" height="1.9" fill="#e0e0e0" opacity="0.65"/>
<rect x="246.03" y="208.55" width="5.86" height="1.9" fill="#e0e0e0" opacity="0.65"/>
<rect x="253.35" y="208.55" width="5.86" height="1.9" fill="#e0e0e0" opacity="0.65"/>
<rect x="260.68" y="208.55" width="5.86" height="1.9" fill="#e0e0e0" opacity="0.65"/>
<rect x="268.01" y="208.55" width="5.86" height="1.9" fill="#e0e0e0" opacity="0.65"/>
<rect x="275.34" y="208.55" width="5.86" height="1.9" fill="#e0e0e0" opacity="0.65"/>
<rect x="282.67" y="208.55" width="5.86" height="1.9" fill="#e0e0e0" opacity="0.65"/>
<rect x="289.99" y="208.55" width="5.86" height="1.9" fill="#e0e0e0" opacity="0.65"/>
<rect x="297.32" y="208.55" width="5.86" height="1.9" fill="#e0e0e0" opacity="0.65"/>
<rect x="304.65" y="208.55" width="5.86" height="1.9" fill="#e0e0e0" opacity="0.65"/>
<rect x="311.98" y="208.55" width="5.86" height="1.9" fill="#e0e0e0" opacity="0.65"/>
<rect x="319.30" y="208.55" width="5.86" height="1.9" fill="#e0e0e0" opacity="0.65"/>
</g>
<rect x="194" y="215.8" width="131.90" height="6.60" fill="url(#g2)"/>
<g filter="url(#bl)">
<rect x="194.73" y="218.15" width="5.86" height="1.9" fill="#e0e0e0" opacity="0.53"/>
<rect x="202.06" y="218.15" width="5.86" height="1.9" fill="#e0e0e0" opacity="0.45"/>
<rect x="209.39" y="218.15" width="5.86" height="1.9" fill="#e0e0e0" opacity="0.60"/>
<rect x="216.72" y="218.15" width="5.86" height="1.9" fill="#e0e0e0" opacity="0.77"/>
<rect x="224.04" y="218.15" width="5.86" height="1.9" fill="#e0e0e0" opacity="0.56"/>
<rect x="231.37" y="218.15" width="5.86" height="1.9" fill="#e0e0e0" opacity="0.58"/>
<rect x="238.70" y="218.15" width="5.86" height="1.9" fill="#e0e0e0" opacity="0.84"/>
<rect x="246.03" y="218.15" width="5.86" height="1.9" fill="#e0e0e0" opacity="0.63"/>
<rect x="253.35" y="218.15" width="5.86" height="1.9" fill="#e0e0e0" opacity="0.42"/>
<rect x="260.68" y="218.15" width="5.86" height="1.9" fill="#e0e0e0" opacity="0.45"/>
<rect x="268.01" y="218.15" width="5.86" height="1.9" fill="#e0e0e0" opacity="0.57"/>
<rect x="275.34" y="218.15" width="5.86" height="1.9" fill="#e0e0e0" opacity="0.46"/>
<rect x="282.67" y="218.15" width="5.86" height="1.9" fill="#e0e0e0" opacity="0.79"/>
<rect x="289.99" y="218.15" width="5.86" height="1.9" fill="#e0e0e0" opacity="0.83"/>
<rect x="297.32" y="218.15" width="5.86" height="1.9" fill="#e0e0e0" opacity="0.65"/>
<rect x="304.65" y="218.15" width="5.86" height="1.9" fill="#e0e0e0" opacity="0.55"/>
<rect x="311.98" y="218.15" width="5.86" height="1.9" fill="#e0e0e0" opacity="0.75"/>
<rect x="319.30" y="218.15" width="5.86" height="1.9" fill="#e0e0e0" opacity="0.57"/>
</g>
<text x="177.85" y="212.5" font-size="7.2" text-anchor="middle" font-weight="normal" fill="#222" stroke="#222" stroke-width="0.05" textLength="19.70" lengthAdjust="spacingAndGlyphs">RPL32</text>
<text x="178.3" y="221.7" font-size="7.2" text-anchor="middle" font-weight="normal" fill="#222" stroke="#222" stroke-width="0.05" textLength="24.50" lengthAdjust="spacingAndGlyphs">PxAPN5</text>
<line x1="32.199999999999996" y1="360.7" x2="334" y2="360.7" stroke="#808080" stroke-width="1"/>
<line x1="33.8" y1="236.50" x2="33.8" y2="360.5" stroke="#c8c8c8" stroke-width="1.7"/>
<line x1="31.9" y1="360.50" x2="33.8" y2="360.50" stroke="#555" stroke-width="0.9"/>
<text x="28.2" y="363.55" font-size="8.1" text-anchor="end" font-weight="normal" fill="#222" stroke="#222" stroke-width="0.05" >0</text>
<line x1="31.9" y1="335.70" x2="33.8" y2="335.70" stroke="#555" stroke-width="0.9"/>
<text x="28.2" y="338.75" font-size="8.1" text-anchor="end" font-weight="normal" fill="#222" stroke="#222" stroke-width="0.05" >10</text>
<line x1="31.9" y1="310.90" x2="33.8" y2="310.90" stroke="#555" stroke-width="0.9"/>
<text x="28.2" y="313.95" font-size="8.1" text-anchor="end" font-weight="normal" fill="#222" stroke="#222" stroke-width="0.05" >20</text>
<line x1="31.9" y1="286.10" x2="33.8" y2="286.10" stroke="#555" stroke-width="0.9"/>
<text x="28.2" y="289.15" font-size="8.1" text-anchor="end" font-weight="normal" fill="#222" stroke="#222" stroke-width="0.05" >30</text>
<line x1="31.9" y1="261.30" x2="33.8" y2="261.30" stroke="#555" stroke-width="0.9"/>
<text x="28.2" y="264.35" font-size="8.1" text-anchor="end" font-weight="normal" fill="#222" stroke="#222" stroke-width="0.05" >40</text>
<line x1="31.9" y1="236.50" x2="33.8" y2="236.50" stroke="#555" stroke-width="0.9"/>
<text x="28.2" y="239.55" font-size="8.1" text-anchor="end" font-weight="normal" fill="#222" stroke="#222" stroke-width="0.05" >50</text>
<text transform="translate(9.7,297.1) rotate(-90)" font-size="9.95" text-anchor="middle" fill="#1a1a1a" stroke="#1a1a1a" stroke-width="0.05">Relative expression (fold)</text>
<rect x="42.60" y="316.60" width="2.25" height="43.90" fill="#0000ff" stroke="#101040" stroke-width="0.6"/>
<rect x="46.34" y="304.30" width="2.25" height="56.20" fill="#0000ff" stroke="#101040" stroke-width="0.6"/>
<rect x="50.09" y="311.20" width="2.25" height="49.30" fill="#0000ff" stroke="#101040" stroke-width="0.6"/>
<rect x="53.83" y="318.60" width="2.25" height="41.90" fill="#0000ff" stroke="#101040" stroke-width="0.6"/>
<rect x="57.57" y="320.40" width="2.25" height="40.10" fill="#0000ff" stroke="#101040" stroke-width="0.6"/>
<rect x="61.31" y="309.40" width="2.25" height="51.10" fill="#0000ff" stroke="#101040" stroke-width="0.6"/>
<rect x="65.06" y="312.50" width="2.25" height="48.00" fill="#0000ff" stroke="#101040" stroke-width="0.6"/>
<rect x="68.80" y="303.40" width="2.25" height="57.10" fill="#0000ff" stroke="#101040" stroke-width="0.6"/>
<rect x="79.60" y="316.00" width="2.25" height="44.50" fill="#00bb00" stroke="#104010" stroke-width="0.6"/>
<rect x="83.35" y="336.40" width="2.25" height="24.10" fill="#00bb00" stroke="#104010" stroke-width="0.6"/>
<rect x="87.09" y="283.20" width="2.25" height="77.30" fill="#00bb00" stroke="#104010" stroke-width="0.6"/>
<rect x="90.84" y="322.00" width="2.25" height="38.50" fill="#00bb00" stroke="#104010" stroke-width="0.6"/>
<rect x="94.59" y="291.50" width="2.25" height="69.00" fill="#00bb00" stroke="#104010" stroke-width="0.6"/>
<rect x="98.34" y="317.20" width="2.25" height="43.30" fill="#00bb00" stroke="#104010" stroke-width="0.6"/>
<rect x="102.08" y="343.20" width="2.25" height="17.30" fill="#00bb00" stroke="#104010" stroke-width="0.6"/>
<rect x="105.83" y="345.60" width="2.25" height="14.90" fill="#00bb00" stroke="#104010" stroke-width="0.6"/>
<rect x="109.58" y="319.10" width="2.25" height="41.40" fill="#00bb00" stroke="#104010" stroke-width="0.6"/>
<rect x="113.32" y="304.30" width="2.25" height="56.20" fill="#00bb00" stroke="#104010" stroke-width="0.6"/>
<rect x="117.07" y="314.00" width="2.25" height="46.50" fill="#00bb00" stroke="#104010" stroke-width="0.6"/>
<rect x="120.82" y="312.30" width="2.25" height="48.20" fill="#00bb00" stroke="#104010" stroke-width="0.6"/>
<rect x="124.56" y="274.80" width="2.25" height="85.70" fill="#00bb00" stroke="#104010" stroke-width="0.6"/>
<rect x="128.31" y="249.50" width="2.25" height="111.00" fill="#00bb00" stroke="#104010" stroke-width="0.6"/>
<rect x="132.06" y="316.00" width="2.25" height="44.50" fill="#00bb00" stroke="#104010" stroke-width="0.6"/>
<rect x="135.81" y="333.20" width="2.25" height="27.30" fill="#00bb00" stroke="#104010" stroke-width="0.6"/>
<rect x="139.55" y="310.30" width="2.25" height="50.20" fill="#00bb00" stroke="#104010" stroke-width="0.6"/>
<rect x="143.30" y="270.20" width="2.25" height="90.30" fill="#00bb00" stroke="#104010" stroke-width="0.6"/>
<rect x="154.50" y="306.40" width="2.25" height="54.10" fill="#00f0f0" stroke="#204040" stroke-width="0.6"/>
<rect x="158.22" y="302.20" width="2.25" height="58.30" fill="#00f0f0" stroke="#204040" stroke-width="0.6"/>
<rect x="161.94" y="335.30" width="2.25" height="25.20" fill="#00f0f0" stroke="#204040" stroke-width="0.6"/>
<rect x="165.65" y="324.70" width="2.25" height="35.80" fill="#00f0f0" stroke="#204040" stroke-width="0.6"/>
<rect x="169.37" y="330.30" width="2.25" height="30.20" fill="#00f0f0" stroke="#204040" stroke-width="0.6"/>
<rect x="173.09" y="267.60" width="2.25" height="92.90" fill="#00f0f0" stroke="#204040" stroke-width="0.6"/>
<rect x="176.81" y="314.40" width="2.25" height="46.10" fill="#00f0f0" stroke="#204040" stroke-width="0.6"/>
<rect x="180.53" y="318.50" width="2.25" height="42.00" fill="#00f0f0" stroke="#204040" stroke-width="0.6"/>
<rect x="184.25" y="272.40" width="2.25" height="88.10" fill="#00f0f0" stroke="#204040" stroke-width="0.6"/>
<rect x="187.96" y="291.80" width="2.25" height="68.70" fill="#00f0f0" stroke="#204040" stroke-width="0.6"/>
<rect x="191.68" y="282.70" width="2.25" height="77.80" fill="#00f0f0" stroke="#204040" stroke-width="0.6"/>
<rect x="195.40" y="279.50" width="2.25" height="81.00" fill="#00f0f0" stroke="#204040" stroke-width="0.6"/>
<rect x="207.20" y="321.50" width="2.25" height="39.00" fill="#00bb00" stroke="#104010" stroke-width="0.6"/>
<rect x="210.94" y="335.20" width="2.25" height="25.30" fill="#00bb00" stroke="#104010" stroke-width="0.6"/>
<rect x="214.67" y="309.60" width="2.25" height="50.90" fill="#00bb00" stroke="#104010" stroke-width="0.6"/>
<rect x="218.41" y="280.70" width="2.25" height="79.80" fill="#00bb00" stroke="#104010" stroke-width="0.6"/>
<rect x="222.14" y="317.20" width="2.25" height="43.30" fill="#00bb00" stroke="#104010" stroke-width="0.6"/>
<rect x="225.88" y="313.50" width="2.25" height="47.00" fill="#00bb00" stroke="#104010" stroke-width="0.6"/>
<rect x="229.61" y="268.40" width="2.25" height="92.10" fill="#00bb00" stroke="#104010" stroke-width="0.6"/>
<rect x="233.35" y="304.50" width="2.25" height="56.00" fill="#00bb00" stroke="#104010" stroke-width="0.6"/>
<rect x="237.08" y="340.50" width="2.25" height="20.00" fill="#00bb00" stroke="#104010" stroke-width="0.6"/>
<rect x="240.82" y="334.50" width="2.25" height="26.00" fill="#00bb00" stroke="#104010" stroke-width="0.6"/>
<rect x="244.55" y="314.30" width="2.25" height="46.20" fill="#00bb00" stroke="#104010" stroke-width="0.6"/>
<rect x="248.29" y="333.60" width="2.25" height="26.90" fill="#00bb00" stroke="#104010" stroke-width="0.6"/>
<rect x="252.02" y="277.00" width="2.25" height="83.50" fill="#00bb00" stroke="#104010" stroke-width="0.6"/>
<rect x="255.76" y="270.50" width="2.25" height="90.00" fill="#00bb00" stroke="#104010" stroke-width="0.6"/>
<rect x="259.49" y="301.40" width="2.25" height="59.10" fill="#00bb00" stroke="#104010" stroke-width="0.6"/>
<rect x="263.23" y="318.80" width="2.25" height="41.70" fill="#00bb00" stroke="#104010" stroke-width="0.6"/>
<rect x="266.96" y="284.50" width="2.25" height="76.00" fill="#00bb00" stroke="#104010" stroke-width="0.6"/>
<rect x="270.70" y="314.80" width="2.25" height="45.70" fill="#00bb00" stroke="#104010" stroke-width="0.6"/>
<rect x="281.70" y="320.10" width="2.25" height="40.40" fill="#00f0f0" stroke="#204040" stroke-width="0.6"/>
<rect x="285.45" y="309.60" width="2.25" height="50.90" fill="#00f0f0" stroke="#204040" stroke-width="0.6"/>
<rect x="289.21" y="334.00" width="2.25" height="26.50" fill="#00f0f0" stroke="#204040" stroke-width="0.6"/>
<rect x="292.96" y="281.70" width="2.25" height="78.80" fill="#00f0f0" stroke="#204040" stroke-width="0.6"/>
<rect x="296.72" y="303.20" width="2.25" height="57.30" fill="#00f0f0" stroke="#204040" stroke-width="0.6"/>
<rect x="300.47" y="314.30" width="2.25" height="46.20" fill="#00f0f0" stroke="#204040" stroke-width="0.6"/>
<rect x="304.23" y="275.50" width="2.25" height="85.00" fill="#00f0f0" stroke="#204040" stroke-width="0.6"/>
<rect x="307.98" y="331.30" width="2.25" height="29.20" fill="#00f0f0" stroke="#204040" stroke-width="0.6"/>
<rect x="311.74" y="321.20" width="2.25" height="39.30" fill="#00f0f0" stroke="#204040" stroke-width="0.6"/>
<rect x="315.49" y="340.50" width="2.25" height="20.00" fill="#00f0f0" stroke="#204040" stroke-width="0.6"/>
<rect x="319.25" y="264.60" width="2.25" height="95.90" fill="#00f0f0" stroke="#204040" stroke-width="0.6"/>
<rect x="323.00" y="282.70" width="2.25" height="77.80" fill="#00f0f0" stroke="#204040" stroke-width="0.6"/>
<line x1="30" y1="222.6" x2="79.2" y2="360.5" stroke="#151515" stroke-width="0.95" stroke-dasharray="2.8 2.1"/>
<line x1="161.8" y1="222.6" x2="146" y2="360.5" stroke="#151515" stroke-width="0.95" stroke-dasharray="2.8 2.1"/>
<line x1="194" y1="222.6" x2="206.8" y2="360.5" stroke="#151515" stroke-width="0.95" stroke-dasharray="2.8 2.1"/>
<line x1="325.9" y1="222.6" x2="273.6" y2="360.5" stroke="#151515" stroke-width="0.95" stroke-dasharray="2.8 2.1"/>
<text x="56.1" y="371.30" font-size="9.8" text-anchor="middle" font-weight="normal" fill="#1a1a1a" stroke="#1a1a1a" stroke-width="0.05" >F1</text>
<text x="56.0" y="382.80" font-size="9.8" text-anchor="middle" font-weight="normal" fill="#1a1a1a" stroke="#1a1a1a" stroke-width="0.05" >(<tspan font-style="italic">rs</tspan>)</text>
<text x="112.4" y="371.30" font-size="9.8" text-anchor="middle" font-weight="normal" fill="#1a1a1a" stroke="#1a1a1a" stroke-width="0.05" >Backcross a</text>
<text x="112.6" y="382.80" font-size="9.8" text-anchor="middle" font-weight="normal" fill="#1a1a1a" stroke="#1a1a1a" stroke-width="0.05" >untreated (<tspan font-style="italic">rs:rr</tspan>)</text>
<text x="176.3" y="371.30" font-size="9.8" text-anchor="middle" font-weight="normal" fill="#1a1a1a" stroke="#1a1a1a" stroke-width="0.05" >Backcross a</text>
<text x="177.9" y="382.80" font-size="9.8" text-anchor="middle" font-weight="normal" fill="#1a1a1a" stroke="#1a1a1a" stroke-width="0.05" >treated (<tspan font-style="italic">rr</tspan>)</text>
<text x="240.3" y="371.30" font-size="9.8" text-anchor="middle" font-weight="normal" fill="#1a1a1a" stroke="#1a1a1a" stroke-width="0.05" >Backcross b</text>
<text x="240.7" y="382.80" font-size="9.8" text-anchor="middle" font-weight="normal" fill="#1a1a1a" stroke="#1a1a1a" stroke-width="0.05" >untreated (<tspan font-style="italic">rs:rr</tspan>)</text>
<text x="306.2" y="371.30" font-size="9.8" text-anchor="middle" font-weight="normal" fill="#1a1a1a" stroke="#1a1a1a" stroke-width="0.05" >Backcross b</text>
<text x="306.0" y="382.80" font-size="9.8" text-anchor="middle" font-weight="normal" fill="#1a1a1a" stroke="#1a1a1a" stroke-width="0.05" >treated (<tspan font-style="italic">rr</tspan>)</text>
<text x="350" y="211.0" font-size="14" text-anchor="start" font-weight="bold" fill="#000" >d</text>
<rect x="381.2" y="206.3" width="131.80" height="6.60" fill="url(#g2)"/>
<g filter="url(#bl)">
<rect x="381.93" y="208.65" width="5.86" height="1.9" fill="#e0e0e0" opacity="0.65"/>
<rect x="389.25" y="208.65" width="5.86" height="1.9" fill="#e0e0e0" opacity="0.65"/>
<rect x="396.58" y="208.65" width="5.86" height="1.9" fill="#e0e0e0" opacity="0.65"/>
<rect x="403.90" y="208.65" width="5.86" height="1.9" fill="#e0e0e0" opacity="0.65"/>
<rect x="411.22" y="208.65" width="5.86" height="1.9" fill="#e0e0e0" opacity="0.65"/>
<rect x="418.54" y="208.65" width="5.86" height="1.9" fill="#e0e0e0" opacity="0.65"/>
<rect x="425.87" y="208.65" width="5.86" height="1.9" fill="#e0e0e0" opacity="0.65"/>
<rect x="433.19" y="208.65" width="5.86" height="1.9" fill="#e0e0e0" opacity="0.65"/>
<rect x="440.51" y="208.65" width="5.86" height="1.9" fill="#e0e0e0" opacity="0.65"/>
<rect x="447.83" y="208.65" width="5.86" height="1.9" fill="#e0e0e0" opacity="0.65"/>
<rect x="455.15" y="208.65" width="5.86" height="1.9" fill="#e0e0e0" opacity="0.65"/>
<rect x="462.48" y="208.65" width="5.86" height="1.9" fill="#e0e0e0" opacity="0.65"/>
<rect x="469.80" y="208.65" width="5.86" height="1.9" fill="#e0e0e0" opacity="0.65"/>
<rect x="477.12" y="208.65" width="5.86" height="1.9" fill="#e0e0e0" opacity="0.65"/>
<rect x="484.44" y="208.65" width="5.86" height="1.9" fill="#e0e0e0" opacity="0.65"/>
<rect x="491.77" y="208.65" width="5.86" height="1.9" fill="#e0e0e0" opacity="0.65"/>
<rect x="499.09" y="208.65" width="5.86" height="1.9" fill="#e0e0e0" opacity="0.65"/>
<rect x="506.41" y="208.65" width="5.86" height="1.9" fill="#e0e0e0" opacity="0.65"/>
</g>
<rect x="381.2" y="215.9" width="131.80" height="6.40" fill="url(#g2)"/>
<g filter="url(#bl)">
<rect x="381.93" y="218.15" width="5.86" height="1.9" fill="#e0e0e0" opacity="0.72"/>
<rect x="389.25" y="218.15" width="5.86" height="1.9" fill="#e0e0e0" opacity="0.56"/>
<rect x="396.58" y="218.15" width="5.86" height="1.9" fill="#e0e0e0" opacity="0.90"/>
<rect x="403.90" y="218.15" width="5.86" height="1.9" fill="#e0e0e0" opacity="0.69"/>
<rect x="411.22" y="218.15" width="5.86" height="1.9" fill="#e0e0e0" opacity="0.90"/>
<rect x="418.54" y="218.15" width="5.86" height="1.9" fill="#e0e0e0" opacity="0.77"/>
<rect x="425.87" y="218.15" width="5.86" height="1.9" fill="#e0e0e0" opacity="0.65"/>
<rect x="433.19" y="218.15" width="5.86" height="1.9" fill="#e0e0e0" opacity="0.60"/>
<rect x="440.51" y="218.15" width="5.86" height="1.9" fill="#e0e0e0" opacity="0.51"/>
<rect x="447.83" y="218.15" width="5.86" height="1.9" fill="#e0e0e0" opacity="0.52"/>
<rect x="455.15" y="218.15" width="5.86" height="1.9" fill="#e0e0e0" opacity="0.78"/>
<rect x="462.48" y="218.15" width="5.86" height="1.9" fill="#e0e0e0" opacity="0.70"/>
<rect x="469.80" y="218.15" width="5.86" height="1.9" fill="#e0e0e0" opacity="0.90"/>
<rect x="477.12" y="218.15" width="5.86" height="1.9" fill="#e0e0e0" opacity="0.76"/>
<rect x="484.44" y="218.15" width="5.86" height="1.9" fill="#e0e0e0" opacity="0.90"/>
<rect x="491.77" y="218.15" width="5.86" height="1.9" fill="#e0e0e0" opacity="0.70"/>
<rect x="499.09" y="218.15" width="5.86" height="1.9" fill="#e0e0e0" opacity="0.48"/>
<rect x="506.41" y="218.15" width="5.86" height="1.9" fill="#e0e0e0" opacity="0.90"/>
</g>
<rect x="545.8" y="206.3" width="131.60" height="6.60" fill="url(#g2)"/>
<g filter="url(#bl)">
<rect x="546.53" y="208.65" width="5.85" height="1.9" fill="#e0e0e0" opacity="0.65"/>
<rect x="553.84" y="208.65" width="5.85" height="1.9" fill="#e0e0e0" opacity="0.65"/>
<rect x="561.15" y="208.65" width="5.85" height="1.9" fill="#e0e0e0" opacity="0.65"/>
<rect x="568.46" y="208.65" width="5.85" height="1.9" fill="#e0e0e0" opacity="0.65"/>
<rect x="575.78" y="208.65" width="5.85" height="1.9" fill="#e0e0e0" opacity="0.65"/>
<rect x="583.09" y="208.65" width="5.85" height="1.9" fill="#e0e0e0" opacity="0.65"/>
<rect x="590.40" y="208.65" width="5.85" height="1.9" fill="#e0e0e0" opacity="0.65"/>
<rect x="597.71" y="208.65" width="5.85" height="1.9" fill="#e0e0e0" opacity="0.65"/>
<rect x="605.02" y="208.65" width="5.85" height="1.9" fill="#e0e0e0" opacity="0.65"/>
<rect x="612.33" y="208.65" width="5.85" height="1.9" fill="#e0e0e0" opacity="0.65"/>
<rect x="619.64" y="208.65" width="5.85" height="1.9" fill="#e0e0e0" opacity="0.65"/>
<rect x="626.95" y="208.65" width="5.85" height="1.9" fill="#e0e0e0" opacity="0.65"/>
<rect x="634.26" y="208.65" width="5.85" height="1.9" fill="#e0e0e0" opacity="0.65"/>
<rect x="641.58" y="208.65" width="5.85" height="1.9" fill="#e0e0e0" opacity="0.65"/>
<rect x="648.89" y="208.65" width="5.85" height="1.9" fill="#e0e0e0" opacity="0.65"/>
<rect x="656.20" y="208.65" width="5.85" height="1.9" fill="#e0e0e0" opacity="0.65"/>
<rect x="663.51" y="208.65" width="5.85" height="1.9" fill="#e0e0e0" opacity="0.65"/>
<rect x="670.82" y="208.65" width="5.85" height="1.9" fill="#e0e0e0" opacity="0.65"/>
</g>
<rect x="545.8" y="215.9" width="131.60" height="6.40" fill="url(#g2)"/>
<g filter="url(#bl)">
<rect x="546.53" y="218.15" width="5.85" height="1.9" fill="#e0e0e0" opacity="0.64"/>
<rect x="553.84" y="218.15" width="5.85" height="1.9" fill="#e0e0e0" opacity="0.48"/>
<rect x="561.15" y="218.15" width="5.85" height="1.9" fill="#e0e0e0" opacity="0.77"/>
<rect x="568.46" y="218.15" width="5.85" height="1.9" fill="#e0e0e0" opacity="0.69"/>
<rect x="575.78" y="218.15" width="5.85" height="1.9" fill="#e0e0e0" opacity="0.90"/>
<rect x="583.09" y="218.15" width="5.85" height="1.9" fill="#e0e0e0" opacity="0.55"/>
<rect x="590.40" y="218.15" width="5.85" height="1.9" fill="#e0e0e0" opacity="0.72"/>
<rect x="597.71" y="218.15" width="5.85" height="1.9" fill="#e0e0e0" opacity="0.54"/>
<rect x="605.02" y="218.15" width="5.85" height="1.9" fill="#e0e0e0" opacity="0.53"/>
<rect x="612.33" y="218.15" width="5.85" height="1.9" fill="#e0e0e0" opacity="0.70"/>
<rect x="619.64" y="218.15" width="5.85" height="1.9" fill="#e0e0e0" opacity="0.75"/>
<rect x="626.95" y="218.15" width="5.85" height="1.9" fill="#e0e0e0" opacity="0.90"/>
<rect x="634.26" y="218.15" width="5.85" height="1.9" fill="#e0e0e0" opacity="0.90"/>
<rect x="641.58" y="218.15" width="5.85" height="1.9" fill="#e0e0e0" opacity="0.51"/>
<rect x="648.89" y="218.15" width="5.85" height="1.9" fill="#e0e0e0" opacity="0.73"/>
<rect x="656.20" y="218.15" width="5.85" height="1.9" fill="#e0e0e0" opacity="0.68"/>
<rect x="663.51" y="218.15" width="5.85" height="1.9" fill="#e0e0e0" opacity="0.90"/>
<rect x="670.82" y="218.15" width="5.85" height="1.9" fill="#e0e0e0" opacity="0.78"/>
</g>
<text x="528.8" y="212.7" font-size="7.2" text-anchor="middle" font-weight="normal" fill="#222" stroke="#222" stroke-width="0.05" textLength="20.00" lengthAdjust="spacingAndGlyphs">RPL32</text>
<text x="529.4" y="221.7" font-size="7.2" text-anchor="middle" font-weight="normal" fill="#222" stroke="#222" stroke-width="0.05" textLength="24.40" lengthAdjust="spacingAndGlyphs">PxAPN6</text>
<line x1="383.4" y1="361.3" x2="685" y2="361.3" stroke="#a0a0a0" stroke-width="1"/>
<line x1="385.0" y1="237.60" x2="385.0" y2="360.8" stroke="#c0c0c0" stroke-width="1.8"/>
<line x1="383.1" y1="360.80" x2="385.0" y2="360.80" stroke="#555" stroke-width="0.9"/>
<text x="379.2" y="363.85" font-size="8.1" text-anchor="end" font-weight="normal" fill="#222" stroke="#222" stroke-width="0.05" >0</text>
<line x1="383.1" y1="345.40" x2="385.0" y2="345.40" stroke="#555" stroke-width="0.9"/>
<text x="379.2" y="348.45" font-size="8.1" text-anchor="end" font-weight="normal" fill="#222" stroke="#222" stroke-width="0.05" >2</text>
<line x1="383.1" y1="330.00" x2="385.0" y2="330.00" stroke="#555" stroke-width="0.9"/>
<text x="379.2" y="333.05" font-size="8.1" text-anchor="end" font-weight="normal" fill="#222" stroke="#222" stroke-width="0.05" >4</text>
<line x1="383.1" y1="314.60" x2="385.0" y2="314.60" stroke="#555" stroke-width="0.9"/>
<text x="379.2" y="317.65" font-size="8.1" text-anchor="end" font-weight="normal" fill="#222" stroke="#222" stroke-width="0.05" >6</text>
<line x1="383.1" y1="299.20" x2="385.0" y2="299.20" stroke="#555" stroke-width="0.9"/>
<text x="379.2" y="302.25" font-size="8.1" text-anchor="end" font-weight="normal" fill="#222" stroke="#222" stroke-width="0.05" >8</text>
<line x1="383.1" y1="283.80" x2="385.0" y2="283.80" stroke="#555" stroke-width="0.9"/>
<text x="379.2" y="286.85" font-size="8.1" text-anchor="end" font-weight="normal" fill="#222" stroke="#222" stroke-width="0.05" >10</text>
<line x1="383.1" y1="268.40" x2="385.0" y2="268.40" stroke="#555" stroke-width="0.9"/>
<text x="379.2" y="271.45" font-size="8.1" text-anchor="end" font-weight="normal" fill="#222" stroke="#222" stroke-width="0.05" >12</text>
<line x1="383.1" y1="253.00" x2="385.0" y2="253.00" stroke="#555" stroke-width="0.9"/>
<text x="379.2" y="256.05" font-size="8.1" text-anchor="end" font-weight="normal" fill="#222" stroke="#222" stroke-width="0.05" >14</text>
<line x1="383.1" y1="237.60" x2="385.0" y2="237.60" stroke="#555" stroke-width="0.9"/>
<text x="379.2" y="240.65" font-size="8.1" text-anchor="end" font-weight="normal" fill="#222" stroke="#222" stroke-width="0.05" >16</text>
<text transform="translate(361.0,297.5) rotate(-90)" font-size="9.95" text-anchor="middle" fill="#1a1a1a" stroke="#1a1a1a" stroke-width="0.05">Relative expression (fold)</text>
<rect x="393.70" y="308.00" width="2.25" height="52.80" fill="#0000ff" stroke="#101040" stroke-width="0.6"/>
<rect x="397.43" y="297.70" width="2.25" height="63.10" fill="#0000ff" stroke="#101040" stroke-width="0.6"/>
<rect x="401.16" y="309.40" width="2.25" height="51.40" fill="#0000ff" stroke="#101040" stroke-width="0.6"/>
<rect x="404.89" y="300.40" width="2.25" height="60.40" fill="#0000ff" stroke="#101040" stroke-width="0.6"/>
<rect x="408.61" y="288.30" width="2.25" height="72.50" fill="#0000ff" stroke="#101040" stroke-width="0.6"/>
<rect x="412.34" y="303.40" width="2.25" height="57.40" fill="#0000ff" stroke="#101040" stroke-width="0.6"/>
<rect x="416.07" y="296.40" width="2.25" height="64.40" fill="#0000ff" stroke="#101040" stroke-width="0.6"/>
<rect x="419.80" y="284.30" width="2.25" height="76.50" fill="#0000ff" stroke="#101040" stroke-width="0.6"/>
<rect x="431.20" y="298.10" width="2.25" height="62.70" fill="#00bb00" stroke="#104010" stroke-width="0.6"/>
<rect x="434.92" y="322.30" width="2.25" height="38.50" fill="#00bb00" stroke="#104010" stroke-width="0.6"/>
<rect x="438.64" y="246.50" width="2.25" height="114.30" fill="#00bb00" stroke="#104010" stroke-width="0.6"/>
<rect x="442.35" y="302.30" width="2.25" height="58.50" fill="#00bb00" stroke="#104010" stroke-width="0.6"/>
<rect x="446.07" y="255.70" width="2.25" height="105.10" fill="#00bb00" stroke="#104010" stroke-width="0.6"/>
<rect x="449.79" y="290.30" width="2.25" height="70.50" fill="#00bb00" stroke="#104010" stroke-width="0.6"/>
<rect x="453.51" y="308.30" width="2.25" height="52.50" fill="#00bb00" stroke="#104010" stroke-width="0.6"/>
<rect x="457.22" y="316.40" width="2.25" height="44.40" fill="#00bb00" stroke="#104010" stroke-width="0.6"/>
<rect x="460.94" y="329.50" width="2.25" height="31.30" fill="#00bb00" stroke="#104010" stroke-width="0.6"/>
<rect x="464.66" y="328.40" width="2.25" height="32.40" fill="#00bb00" stroke="#104010" stroke-width="0.6"/>
<rect x="468.38" y="289.60" width="2.25" height="71.20" fill="#00bb00" stroke="#104010" stroke-width="0.6"/>
<rect x="472.09" y="300.80" width="2.25" height="60.00" fill="#00bb00" stroke="#104010" stroke-width="0.6"/>
<rect x="475.81" y="255.40" width="2.25" height="105.40" fill="#00bb00" stroke="#104010" stroke-width="0.6"/>
<rect x="479.53" y="292.20" width="2.25" height="68.60" fill="#00bb00" stroke="#104010" stroke-width="0.6"/>
<rect x="483.25" y="251.80" width="2.25" height="109.00" fill="#00bb00" stroke="#104010" stroke-width="0.6"/>
<rect x="486.96" y="300.90" width="2.25" height="59.90" fill="#00bb00" stroke="#104010" stroke-width="0.6"/>
<rect x="490.68" y="334.40" width="2.25" height="26.40" fill="#00bb00" stroke="#104010" stroke-width="0.6"/>
<rect x="494.40" y="268.10" width="2.25" height="92.70" fill="#00bb00" stroke="#104010" stroke-width="0.6"/>
<rect x="505.70" y="273.70" width="2.25" height="87.10" fill="#00f0f0" stroke="#204040" stroke-width="0.6"/>
<rect x="509.44" y="311.20" width="2.25" height="49.60" fill="#00f0f0" stroke="#204040" stroke-width="0.6"/>
<rect x="513.17" y="303.90" width="2.25" height="56.90" fill="#00f0f0" stroke="#204040" stroke-width="0.6"/>
<rect x="516.91" y="331.60" width="2.25" height="29.20" fill="#00f0f0" stroke="#204040" stroke-width="0.6"/>
<rect x="520.65" y="270.50" width="2.25" height="90.30" fill="#00f0f0" stroke="#204040" stroke-width="0.6"/>
<rect x="524.38" y="286.50" width="2.25" height="74.30" fill="#00f0f0" stroke="#204040" stroke-width="0.6"/>
<rect x="528.12" y="281.50" width="2.25" height="79.30" fill="#00f0f0" stroke="#204040" stroke-width="0.6"/>
<rect x="531.85" y="295.80" width="2.25" height="65.00" fill="#00f0f0" stroke="#204040" stroke-width="0.6"/>
<rect x="535.59" y="276.80" width="2.25" height="84.00" fill="#00f0f0" stroke="#204040" stroke-width="0.6"/>
<rect x="539.33" y="318.50" width="2.25" height="42.30" fill="#00f0f0" stroke="#204040" stroke-width="0.6"/>
<rect x="543.06" y="310.70" width="2.25" height="50.10" fill="#00f0f0" stroke="#204040" stroke-width="0.6"/>
<rect x="546.80" y="260.40" width="2.25" height="100.40" fill="#00f0f0" stroke="#204040" stroke-width="0.6"/>
<rect x="558.30" y="310.40" width="2.25" height="50.40" fill="#00bb00" stroke="#104010" stroke-width="0.6"/>
<rect x="562.03" y="333.60" width="2.25" height="27.20" fill="#00bb00" stroke="#104010" stroke-width="0.6"/>
<rect x="565.76" y="289.90" width="2.25" height="70.90" fill="#00bb00" stroke="#104010" stroke-width="0.6"/>
<rect x="569.49" y="303.20" width="2.25" height="57.60" fill="#00bb00" stroke="#104010" stroke-width="0.6"/>
<rect x="573.22" y="254.90" width="2.25" height="105.90" fill="#00bb00" stroke="#104010" stroke-width="0.6"/>
<rect x="576.95" y="324.10" width="2.25" height="36.70" fill="#00bb00" stroke="#104010" stroke-width="0.6"/>
<rect x="580.68" y="298.40" width="2.25" height="62.40" fill="#00bb00" stroke="#104010" stroke-width="0.6"/>
<rect x="584.41" y="325.20" width="2.25" height="35.60" fill="#00bb00" stroke="#104010" stroke-width="0.6"/>
<rect x="588.14" y="326.00" width="2.25" height="34.80" fill="#00bb00" stroke="#104010" stroke-width="0.6"/>
<rect x="591.86" y="301.20" width="2.25" height="59.60" fill="#00bb00" stroke="#104010" stroke-width="0.6"/>
<rect x="595.59" y="293.50" width="2.25" height="67.30" fill="#00bb00" stroke="#104010" stroke-width="0.6"/>
<rect x="599.32" y="248.40" width="2.25" height="112.40" fill="#00bb00" stroke="#104010" stroke-width="0.6"/>
<rect x="603.05" y="255.90" width="2.25" height="104.90" fill="#00bb00" stroke="#104010" stroke-width="0.6"/>
<rect x="606.78" y="330.00" width="2.25" height="30.80" fill="#00bb00" stroke="#104010" stroke-width="0.6"/>
<rect x="610.51" y="296.60" width="2.25" height="64.20" fill="#00bb00" stroke="#104010" stroke-width="0.6"/>
<rect x="614.24" y="304.30" width="2.25" height="56.50" fill="#00bb00" stroke="#104010" stroke-width="0.6"/>
<rect x="617.97" y="264.70" width="2.25" height="96.10" fill="#00bb00" stroke="#104010" stroke-width="0.6"/>
<rect x="621.70" y="289.60" width="2.25" height="71.20" fill="#00bb00" stroke="#104010" stroke-width="0.6"/>
<rect x="632.90" y="299.70" width="2.25" height="61.10" fill="#00f0f0" stroke="#204040" stroke-width="0.6"/>
<rect x="636.65" y="316.70" width="2.25" height="44.10" fill="#00f0f0" stroke="#204040" stroke-width="0.6"/>
<rect x="640.39" y="327.60" width="2.25" height="33.20" fill="#00f0f0" stroke="#204040" stroke-width="0.6"/>
<rect x="644.14" y="313.20" width="2.25" height="47.60" fill="#00f0f0" stroke="#204040" stroke-width="0.6"/>
<rect x="647.88" y="277.60" width="2.25" height="83.20" fill="#00f0f0" stroke="#204040" stroke-width="0.6"/>
<rect x="651.63" y="257.30" width="2.25" height="103.50" fill="#00f0f0" stroke="#204040" stroke-width="0.6"/>
<rect x="655.37" y="289.60" width="2.25" height="71.20" fill="#00f0f0" stroke="#204040" stroke-width="0.6"/>
<rect x="659.12" y="279.80" width="2.25" height="81.00" fill="#00f0f0" stroke="#204040" stroke-width="0.6"/>
<rect x="662.86" y="301.60" width="2.25" height="59.20" fill="#00f0f0" stroke="#204040" stroke-width="0.6"/>
<rect x="666.61" y="328.70" width="2.25" height="32.10" fill="#00f0f0" stroke="#204040" stroke-width="0.6"/>
<rect x="670.35" y="287.70" width="2.25" height="73.10" fill="#00f0f0" stroke="#204040" stroke-width="0.6"/>
<rect x="674.10" y="272.50" width="2.25" height="88.30" fill="#00f0f0" stroke="#204040" stroke-width="0.6"/>
<line x1="381.2" y1="222.5" x2="430.7" y2="360.8" stroke="#151515" stroke-width="0.95" stroke-dasharray="2.8 2.1"/>
<line x1="513" y1="222.5" x2="497.2" y2="360.8" stroke="#151515" stroke-width="0.95" stroke-dasharray="2.8 2.1"/>
<line x1="545.8" y1="222.5" x2="557.8" y2="360.8" stroke="#151515" stroke-width="0.95" stroke-dasharray="2.8 2.1"/>
<line x1="677.4" y1="222.5" x2="624.6" y2="360.8" stroke="#151515" stroke-width="0.95" stroke-dasharray="2.8 2.1"/>
<text x="407.3" y="371.60" font-size="9.8" text-anchor="middle" font-weight="normal" fill="#1a1a1a" stroke="#1a1a1a" stroke-width="0.05" >F1</text>
<text x="407.0" y="383.10" font-size="9.8" text-anchor="middle" font-weight="normal" fill="#1a1a1a" stroke="#1a1a1a" stroke-width="0.05" >(<tspan font-style="italic">rs</tspan>)</text>
<text x="464.0" y="371.60" font-size="9.8" text-anchor="middle" font-weight="normal" fill="#1a1a1a" stroke="#1a1a1a" stroke-width="0.05" >Backcross a</text>
<text x="464.1" y="383.10" font-size="9.8" text-anchor="middle" font-weight="normal" fill="#1a1a1a" stroke="#1a1a1a" stroke-width="0.05" >untreated (<tspan font-style="italic">rs:rr</tspan>)</text>
<text x="527.6" y="371.60" font-size="9.8" text-anchor="middle" font-weight="normal" fill="#1a1a1a" stroke="#1a1a1a" stroke-width="0.05" >Backcross a</text>
<text x="529.0" y="383.10" font-size="9.8" text-anchor="middle" font-weight="normal" fill="#1a1a1a" stroke="#1a1a1a" stroke-width="0.05" >treated (<tspan font-style="italic">rr</tspan>)</text>
<text x="591.1" y="371.60" font-size="9.8" text-anchor="middle" font-weight="normal" fill="#1a1a1a" stroke="#1a1a1a" stroke-width="0.05" >Backcross b</text>
<text x="591.3" y="383.10" font-size="9.8" text-anchor="middle" font-weight="normal" fill="#1a1a1a" stroke="#1a1a1a" stroke-width="0.05" >untreated (<tspan font-style="italic">rs:rr</tspan>)</text>
<text x="657.3" y="371.60" font-size="9.8" text-anchor="middle" font-weight="normal" fill="#1a1a1a" stroke="#1a1a1a" stroke-width="0.05" >Backcross b</text>
<text x="657.3" y="383.10" font-size="9.8" text-anchor="middle" font-weight="normal" fill="#1a1a1a" stroke="#1a1a1a" stroke-width="0.05" >treated (<tspan font-style="italic">rr</tspan>)</text>
</svg>
</body></html>
